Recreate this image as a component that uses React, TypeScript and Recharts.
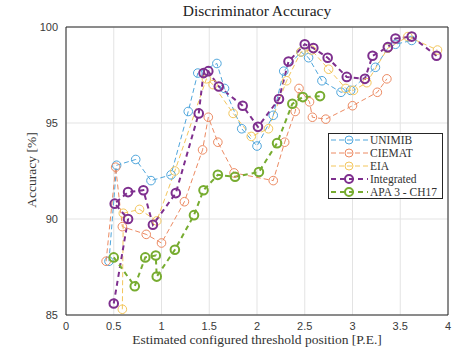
import {
  CartesianGrid,
  Line,
  LineChart,
  ReferenceLine,
  XAxis,
  YAxis,
} from "recharts";

// axis ticks
const xTicks = [0, 0.5, 1, 1.5, 2, 2.5, 3, 3.5, 4];
const yTicks = [85, 90, 95, 100];

// UNIMIB
const unimibX = [0.45, 0.53, 0.73, 0.89, 1.1, 1.28, 1.38, 1.58, 1.66, 1.84, 2.0, 2.17, 2.28, 2.46, 2.54, 2.68, 2.88, 2.98, 3.24, 3.37, 3.45, 3.62];
const unimibY = [87.8, 92.8, 93.1, 92.0, 92.3, 95.6, 97.6, 98.1, 96.8, 94.7, 93.8, 95.4, 97.7, 98.7, 98.4, 97.2, 96.6, 96.7, 97.9, 98.9, 99.1, 99.3];

// CIEMAT
const ciematX = [0.42, 0.52, 0.59, 0.84, 1.0, 1.24, 1.43, 1.49, 1.59, 1.76, 2.17, 2.29, 2.4, 2.44, 2.55, 2.58, 2.72, 3.0, 3.26, 3.36];
const ciematY = [87.8, 92.7, 89.6, 89.2, 88.75, 90.9, 93.6, 95.3, 94.0, 92.4, 92.0, 94.0, 95.6, 96.8, 96.1, 95.3, 95.2, 95.9, 96.6, 97.3];

// EIA
const eiaX = [0.59, 0.6, 0.77, 0.95, 1.14, 1.47, 1.54, 1.75, 1.94, 2.12, 2.31, 2.46, 2.57, 2.75, 2.93, 3.01, 3.15, 3.37, 3.58, 3.89];
const eiaY = [85.3, 90.3, 90.5, 89.9, 92.5, 97.3, 97.0, 95.5, 94.3, 94.7, 97.2, 98.7, 98.8, 97.8, 96.8, 96.7, 97.1, 98.9, 99.5, 98.8];

// Integrated
const integratedX = [0.5, 0.65, 0.51, 0.65, 0.81, 0.91, 1.15, 1.39, 1.44, 1.49, 1.6, 1.85, 2.01, 2.23, 2.33, 2.5, 2.59, 2.74, 2.94, 3.13, 3.21, 3.37, 3.45, 3.62, 3.88];
const integratedY = [85.6, 90.0, 90.8, 91.4, 91.5, 89.7, 91.35, 95.5, 97.6, 97.7, 96.9, 95.9, 94.8, 96.25, 98.2, 99.1, 98.9, 98.4, 97.4, 97.3, 98.5, 98.95, 99.4, 99.5, 98.5];

// APA 3 - CH17
const apaX = [0.5, 0.72, 0.83, 0.94, 0.95, 1.14, 1.34, 1.44, 1.59, 1.77, 2.02, 2.21, 2.37, 2.48, 2.66];
const apaY = [88.0, 86.5, 88.0, 88.1, 87.0, 88.4, 90.2, 91.5, 92.3, 92.2, 92.45, 93.95, 96.0, 96.35, 96.4];

const toPoints = (xs: number[], ys: number[]) => xs.map((x, i) => ({ x, y: ys[i] }));

const series = [
  { name: "UNIMIB", data: toPoints(unimibX, unimibY), color: "#4fa6dc", width: 1 },
  { name: "CIEMAT", data: toPoints(ciematX, ciematY), color: "#ec8a62", width: 1 },
  { name: "EIA", data: toPoints(eiaX, eiaY), color: "#f3c65c", width: 1 },
  { name: "Integrated", data: toPoints(integratedX, integratedY), color: "#7e2f8e", width: 2 },
  { name: "APA 3 - CH17", data: toPoints(apaX, apaY), color: "#77ac30", width: 2 },
];

const serif = "'Liberation Serif', 'DejaVu Serif', serif";
const sans = "'Liberation Sans', Arial, sans-serif";

const LegendBox = () => (
  <svg
    width={115}
    height={66}
    style={{ position: "absolute", left: 328, top: 133 }}
  >
    <rect x={0.5} y={0.5} width={114} height={65} fill="white" stroke="#262626" strokeWidth={1} />
    {series.map((s, i) => {
      const y = 7 + i * 13;
      return (
        <g key={s.name}>
          <line
            x1={3}
            x2={40}
            y1={y}
            y2={y}
            stroke={s.color}
            strokeWidth={s.width}
            strokeDasharray={s.width > 1 ? "5 4" : "5 3"}
          />
          <circle cx={21} cy={y} r={4} fill="none" stroke={s.color} strokeWidth={s.width} />
          <text x={42} y={y + 4} fontFamily={serif} fontSize={11.5} fill="#333">
            {s.name}
          </text>
        </g>
      );
    })}
  </svg>
);

export default function App() {
  return (
    <div style={{ position: "absolute", left: 0, top: 0, width: 456, height: 349, background: "white" }}>
      <LineChart
        width={456}
        height={349}
        margin={{ top: 27, right: 8, bottom: 0, left: 0 }}
      >
        <CartesianGrid stroke="#e3e3e3" />
        <XAxis
          dataKey="x"
          type="number"
          domain={[0, 4]}
          ticks={xTicks}
          height={34}
          tickLine={false}
          tickSize={5}
          axisLine={{ stroke: "#262626" }}
          tick={{ fontFamily: sans, fontSize: 11, fill: "#3a3a3a" }}
          allowDataOverflow
        />
        <YAxis
          type="number"
          domain={[85, 100]}
          ticks={yTicks}
          width={66}
          tickLine={false}
          axisLine={{ stroke: "#262626" }}
          tick={{ fontFamily: sans, fontSize: 11, fill: "#3a3a3a" }}
          allowDataOverflow
        />
        <ReferenceLine y={100} stroke="#262626" />
        <ReferenceLine x={4} stroke="#262626" />
        {series.map((s) => (
          <Line
            key={s.name}
            data={s.data}
            dataKey="y"
            name={s.name}
            type="linear"
            stroke={s.color}
            strokeWidth={s.width}
            strokeDasharray={s.width > 1 ? "5 4" : "5 3"}
            dot={{ r: 4.3, fill: "none", stroke: s.color, strokeWidth: s.width, strokeDasharray: "" }}
            activeDot={false}
            isAnimationActive={false}
          />
        ))}
      </LineChart>
      <div
        style={{
          position: "absolute",
          left: 66,
          width: 382,
          top: 2,
          textAlign: "center",
          fontFamily: serif,
          fontSize: 15.5,
          color: "#222",
        }}
      >
        Discriminator Accuracy
      </div>
      <div
        style={{
          position: "absolute",
          left: 50,
          width: 414,
          top: 332,
          textAlign: "center",
          fontFamily: serif,
          fontSize: 13.5,
          color: "#333",
        }}
      >
        Estimated configured threshold position [P.E.]
      </div>
      <div
        style={{
          position: "absolute",
          left: 32 - 60,
          top: 171 - 9,
          width: 120,
          textAlign: "center",
          transform: "rotate(-90deg)",
          fontFamily: serif,
          fontSize: 13.5,
          color: "#333",
        }}
      >
        Accuracy [%]
      </div>
      <LegendBox />
    </div>
  );
}
